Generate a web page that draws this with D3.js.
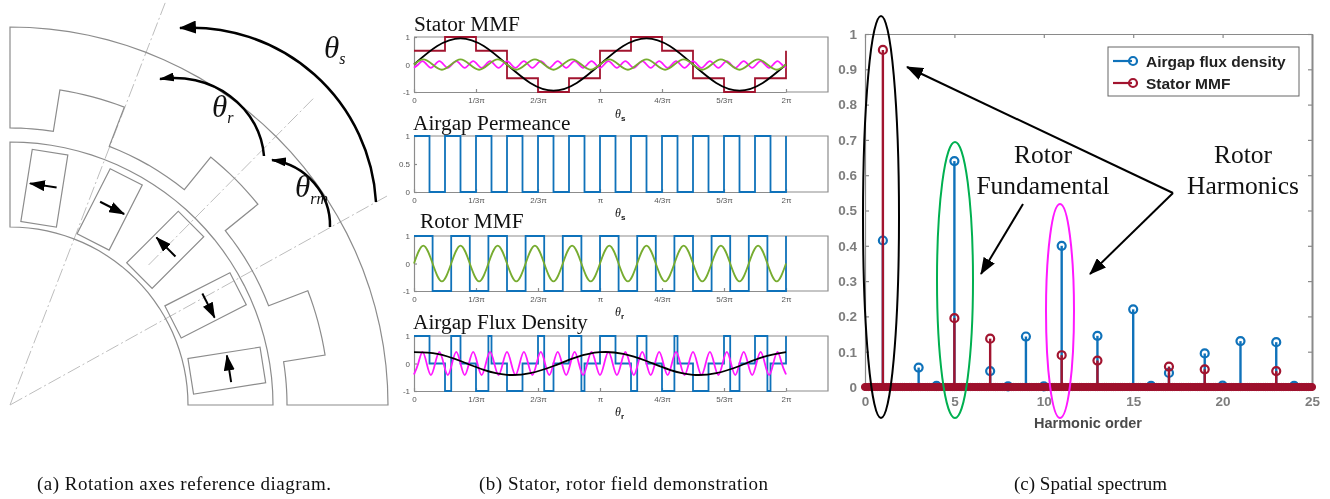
<!DOCTYPE html>
<html>
<head>
<meta charset="utf-8">
<title>Spatial harmonics</title>
<script src="https://cdnjs.cloudflare.com/ajax/libs/d3/7.8.5/d3.min.js"></script>
<style>
    * { margin: 0; padding: 0; }
    body { background: #fff; }
    svg { display: block; filter: blur(0.55px); }
    .serif { font-family: "Liberation Serif", serif; fill: #111; }
    .sans { font-family: "Liberation Sans", sans-serif; }
    .small-axis text { font-family: "Liberation Sans", sans-serif; font-size: 8px; fill: #555; }
    .small-axis path, .small-axis line { stroke: #8c8c8c; stroke-width: 1.2; }
    .big-axis text { font-family: "Liberation Sans", sans-serif; font-size: 13.5px; font-weight: bold; fill: #7d7d7d; }
    .big-axis path, .big-axis line { stroke: #8a8a8a; stroke-width: 1.2; }
</style>
</head>
<body>
<svg id="fig" width="1330" height="499"></svg>

<script>
// ---- panel (a) geometry, degrees and radii
const statorAngles = [0, 9, 9, 21, 21, 39, 39, 51, 51, 69, 69, 81, 81, 90];
const statorRadii = [277, 277, 319, 319, 277, 277, 319, 319, 277, 277, 319, 319, 277, 277];
const statorOuter = 378;
const rotorInner = 178, rotorOuter = 263;
const magnetAngles = [9, 27, 45, 63, 81];
const magnetDirs = [1, -1, 1, -1, 1];
const centerLines = [[68.9, 0, 431], [45.3, 197, 431], [29, 0, 431]];

// ---- panel (b) series, x is in steps of pi/6
const piLabels = ["0", "1/3\u03c0", "2/3\u03c0", "\u03c0", "4/3\u03c0", "5/3\u03c0", "2\u03c0"];
const piTicks = [0, 2, 4, 6, 8, 10, 12];
const statorStep = [0.5, 1, 0.5, -0.5, -1, -0.5, 0.5, 1, 0.5, -0.5, -1, -0.5, 0.5];
const statorFund = [0, 0.67, 0.95, 0.67, 0, -0.67, -0.95, -0.67, 0, 0.67, 0.95, 0.67, 0, -0.67, -0.95, -0.67, 0];
const statorFifth = [0, 0.19, 0, -0.19, 0, 0.19, 0, -0.19, 0, 0.19, 0, -0.19, 0, 0.19, 0, -0.19, 0, 0.19, 0, -0.19, 0,
    0.19, 0, -0.19, 0, 0.19, 0, -0.19, 0, 0.19, 0, -0.19, 0, 0.19, 0, -0.19, 0, 0.19, 0, -0.19, 0];
const statorEleventh = [-0.12, 0, 0.12, 0, -0.12, 0, 0.12, 0, -0.12, 0, 0.12, 0, -0.12, 0, 0.12, 0, -0.12, 0, 0.12, 0, -0.12, 0,
    0.12, 0, -0.12, 0, 0.12, 0, -0.12, 0, 0.12, 0, -0.12, 0, 0.12, 0, -0.12, 0, 0.12, 0, -0.12, 0, 0.12, 0,
    -0.12, 0, 0.12, 0, -0.12, 0, 0.12, 0, -0.12, 0, 0.12, 0, -0.12, 0, 0.12, 0, -0.12, 0, 0.12, 0, -0.12, 0,
    0.12, 0, -0.12, 0, 0.12, 0, -0.12, 0, 0.12, 0, -0.12, 0, 0.12, 0, -0.12, 0, 0.12, 0, -0.12, 0, 0.12, 0, -0.12];
const permeance = [1, 0, 1, 0, 1, 0, 1, 0, 1, 0, 1, 0, 1, 0, 1, 0, 1, 0, 1, 0, 1, 0, 1, 0, 1];
const rotorStep = [1, -1, 1, -1, 1, -1, 1, -1, 1, -1, 1, -1, 1, -1, 1, -1, 1, -1, 1, -1, 1];
const rotorFund = [0, 0.65, 0, -0.65, 0, 0.65, 0, -0.65, 0, 0.65, 0, -0.65, 0, 0.65, 0, -0.65, 0, 0.65, 0, -0.65, 0,
    0.65, 0, -0.65, 0, 0.65, 0, -0.65, 0, 0.65, 0, -0.65, 0, 0.65, 0, -0.65, 0, 0.65, 0, -0.65, 0];
const fluxBreaks = [0, 0.5, 1, 1.2, 1.5, 2, 2.4, 2.5, 3, 3.5, 4, 4.2, 4.5, 5, 5.4, 5.5,
    6, 6.5, 7, 7.2, 7.5, 8, 8.4, 8.5, 9, 9.5, 10, 10.2, 10.5, 11, 11.4, 11.5, 12];
const fluxStep = [1, 0, -1, 1, 0, -1, 1, 0, -1, 0, 1, -1, 0, 1, -1, 0,
    1, 0, -1, 1, 0, -1, 1, 0, -1, 0, 1, -1, 0, 1, -1, 0, 1];
const fluxFund = [0.41, 0.35, 0.09, -0.23, -0.41, -0.35, -0.09, 0.23, 0.41, 0.35, 0.09, -0.23, -0.41, -0.35, -0.09, 0.23, 0.41];
const fluxEleventh = [-0.4, 0, 0.42, 0, -0.42, 0, 0.42, 0, -0.42, 0, 0.42, 0, -0.42, 0, 0.42, 0, -0.42, 0, 0.42, 0, -0.42, 0,
    0.42, 0, -0.42, 0, 0.42, 0, -0.42, 0, 0.42, 0, -0.42, 0, 0.42, 0, -0.42, 0, 0.42, 0, -0.42, 0, 0.42, 0,
    -0.42, 0, 0.42, 0, -0.42, 0, 0.42, 0, -0.42, 0, 0.42, 0, -0.42, 0, 0.42, 0, -0.42, 0, 0.42, 0, -0.42, 0,
    0.42, 0, -0.42, 0, 0.42, 0, -0.42, 0, 0.42, 0, -0.42, 0, 0.42, 0, -0.42, 0, 0.42, 0, -0.42, 0, 0.42, 0, -0.4];

// ---- panel (c) spectrum
const fluxOrders = [1, 3, 5, 7, 9, 11, 13, 15, 17, 19, 21, 23];
const fluxValues = [0.415, 0.055, 0.64, 0.045, 0.143, 0.4, 0.145, 0.22, 0.04, 0.095, 0.13, 0.127];
const mmfOrders = [1, 5, 7, 11, 13, 17, 19, 23];
const mmfValues = [0.955, 0.195, 0.137, 0.09, 0.075, 0.058, 0.05, 0.045];
const bumpOrders = [4, 8, 10, 16, 20, 24];
const bumpValues = [0.003, 0.002, 0.002, 0.003, 0.004, 0.003];

const blue = "#0f72ba", red = "#a2142f", green = "#77ac30", magenta = "#ff19ff";
const svg = d3.select("#fig");

// Arrow heads
function head(id, len, wid) {
    svg.append("marker").attr("id", id)
        .attr("markerUnits", "userSpaceOnUse")
        .attr("markerWidth", len).attr("markerHeight", wid)
        .attr("refX", len - 1).attr("refY", wid / 2)
        .attr("orient", "auto")
        .append("path")
        .attr("d", "M0,0L" + len + "," + wid / 2 + "L0," + wid + "Z")
        .attr("fill", "#000");
}
head("headBig", 17, 13);
head("headMid", 15, 9);
head("headMag", 16, 11);

// ---- panel (a)
const motor = svg.append("g").attr("transform", "translate(10,405)")
    .attr("fill", "none").attr("stroke", "#8c8c8c").attr("stroke-width", 1.2);
const rad = d3.scaleLinear().domain([0, 90]).range([Math.PI / 2, 0]);

motor.selectAll(".axis-line").data(centerLines).join("path")
    .attr("class", "axis-line")
    .attr("stroke", "#bdbdbd").attr("stroke-width", 1).attr("stroke-dasharray", "14 3 2 3")
    .attr("d", d => d3.lineRadial()([[rad(d[0]), d[1]], [rad(d[0]), d[2]]]));

const outline = d3.lineRadial().curve(d3.curveLinear);
// stator teeth, with a short arc between each pair of corners
const statorPts = [];
statorAngles.forEach((a, i) => {
    statorPts.push([rad(a), statorRadii[i]]);
    if (i < statorAngles.length - 1 && statorRadii[i] === statorRadii[i + 1]) {
        d3.range(1, 8).forEach(k => statorPts.push([rad(a + (statorAngles[i + 1] - a) * k / 8), statorRadii[i]]));
    }
});
const outerPts = d3.range(90, -1, -3).map(a => [rad(a), statorOuter]);
motor.append("path").attr("d", outline(statorPts.concat(outerPts)) + "Z");

const rotorPts = d3.range(0, 91, 3).map(a => [rad(a), rotorOuter])
    .concat(d3.range(90, -1, -3).map(a => [rad(a), rotorInner]));
motor.append("path").attr("d", outline(rotorPts) + "Z");

magnetAngles.forEach((a, i) => {
    const g = motor.append("g").attr("transform", "rotate(" + (-a) + ")");
    g.append("rect").attr("x", 183).attr("y", -18).attr("width", 73).attr("height", 36);
    const d = magnetDirs[i];
    g.append("line").attr("x1", 222).attr("x2", 222)
        .attr("y1", 12 * d).attr("y2", -15 * d)
        .attr("stroke", "#000").attr("stroke-width", 2)
        .attr("marker-end", "url(#headMag)");
});

// rotation arcs
const sweeps = [
    ["M376,202 A185,185 0 0 0 180,28", "headBig"],
    ["M264,156 A90,84 0 0 0 160,79", "headMid"],
    ["M330,227 A68,66 0 0 0 272,160", "headMid"]
];
svg.selectAll(".sweep").data(sweeps).join("path").attr("class", "sweep")
    .attr("d", d => d[0]).attr("fill", "none").attr("stroke", "#000").attr("stroke-width", 2.5)
    .attr("marker-end", d => "url(#" + d[1] + ")");

function theta(x, y, sub, size, subSize, dy) {
    const t = svg.append("text").attr("class", "serif").attr("x", x).attr("y", y)
        .attr("font-size", size).attr("font-style", "italic").text("\u03b8");
    t.append("tspan").attr("dy", dy).attr("font-size", subSize).text(sub);
}
theta(324, 58, "s", 31, 16, 6);
theta(212, 117, "r", 31, 16, 6);
theta(295, 197, "rm", 31, 16, 7);

// ---- panel (b)
const xStep = d3.scaleLinear().domain([0, 12]).range([414, 786]);
const PLOT_RIGHT = 828;

function hyphen(d) { return String(d); }

function smallPlot(top, bottom, yDomain, yTicks, title, titleX, titleY, label, labelY) {
    const y = d3.scaleLinear().domain(yDomain).range([bottom, top]);
    const g = svg.append("g").attr("class", "small-axis");
    const xAxis = d3.axisBottom(xStep).tickValues(piTicks).tickFormat((d, i) => piLabels[i])
        .tickSizeInner(-3).tickSizeOuter(0).tickPadding(5);
    g.append("g").attr("transform", "translate(0," + bottom + ")").call(xAxis);
    g.append("g").attr("transform", "translate(414,0)")
        .call(d3.axisLeft(y).tickValues(yTicks).tickFormat(hyphen).tickSizeInner(-3).tickSizeOuter(0).tickPadding(4));
    // the box runs well past the last tick
    g.append("path").attr("fill", "none")
        .attr("d", "M414," + top + "H" + PLOT_RIGHT + "V" + bottom + "H786");
    svg.append("text").attr("class", "serif").attr("x", titleX).attr("y", titleY)
        .attr("font-size", 21.3).text(title);
    const l = svg.append("text").attr("class", "serif").attr("x", 615).attr("y", labelY)
        .attr("font-size", 12).attr("font-style", "italic").text("\u03b8");
    l.append("tspan").attr("dy", 3).attr("font-size", 8).attr("font-weight", "bold")
        .attr("font-style", "normal").attr("font-family", "Liberation Sans").text(label);
    return y;
}

function drawLine(values, y, color, curve, xs, width) {
    const step = 12 / (values.length - 1);
    const line = d3.line()
        .x((d, i) => xStep(xs ? xs[i] : i * step))
        .y(d => y(d))
        .curve(curve);
    svg.append("path").datum(values).attr("d", line)
        .attr("fill", "none").attr("stroke", color).attr("stroke-width", width || 1.8);
}

const y1 = smallPlot(37, 92, [-1, 1], [-1, 0, 1], "Stator MMF", 414, 31, "s", 118);
drawLine(statorStep, y1, red, d3.curveStepAfter);
drawLine(statorFund, y1, "#000", d3.curveNatural);
drawLine(statorEleventh, y1, magenta, d3.curveNatural);
drawLine(statorFifth, y1, green, d3.curveNatural);

const y2 = smallPlot(136, 192, [0, 1], [0, 0.5, 1], "Airgap Permeance", 413, 130, "s", 217);
drawLine(permeance, y2, blue, d3.curveStepAfter);

const y3 = smallPlot(236, 291, [-1, 1], [-1, 0, 1], "Rotor MMF", 420, 228, "r", 316);
drawLine(rotorStep, y3, blue, d3.curveStepAfter);
drawLine(rotorFund, y3, green, d3.curveNatural);

const y4 = smallPlot(336, 391, [-1, 1], [-1, 0, 1], "Airgap Flux Density", 413, 329, "r", 416);
drawLine(fluxStep, y4, blue, d3.curveStepAfter, fluxBreaks);
drawLine(fluxEleventh, y4, magenta, d3.curveNatural);
drawLine(fluxFund, y4, "#000", d3.curveNatural);

// ---- panel (c)
const xH = d3.scaleLinear().domain([0, 25]).range([865, 1312]);
const yH = d3.scaleLinear().domain([0, 1]).range([387, 34]);
const big = svg.append("g").attr("class", "big-axis");
big.append("g").attr("transform", "translate(0,387)")
    .call(d3.axisBottom(xH).ticks(5).tickFormat(d3.format("d")).tickSizeInner(-4).tickSizeOuter(0).tickPadding(9));
big.append("g").attr("transform", "translate(865,0)")
    .call(d3.axisLeft(yH).ticks(10).tickFormat(d3.format("~g")).tickSizeInner(-4).tickSizeOuter(0).tickPadding(8));
big.append("g").attr("transform", "translate(0,34)")
    .call(d3.axisTop(xH).ticks(5).tickFormat("").tickSizeInner(-4).tickSizeOuter(0));
big.append("g").attr("transform", "translate(1312,0)")
    .call(d3.axisRight(yH).ticks(10).tickFormat("").tickSizeInner(-4).tickSizeOuter(0))
    .select(".domain").style("stroke-width", 2);

function stems(orders, values, color) {
    const g = svg.append("g").attr("stroke", color).attr("fill", "none");
    g.selectAll("line").data(orders).join("line")
        .attr("x1", d => xH(d)).attr("x2", d => xH(d))
        .attr("y1", yH(0)).attr("y2", (d, i) => yH(values[i]))
        .attr("stroke-width", 2.4);
    g.selectAll("circle").data(orders).join("circle")
        .attr("cx", d => xH(d)).attr("cy", (d, i) => yH(values[i]))
        .attr("r", 4).attr("stroke-width", 2.2);
}
stems(fluxOrders, fluxValues, blue);
stems(bumpOrders, bumpValues, blue);
stems(mmfOrders, mmfValues, red);

// dense row of near-zero samples, drawn as markers sitting on the axis
svg.append("g").selectAll("circle").data(d3.range(0, 25.01, 0.1)).join("circle")
    .attr("cx", d => xH(d)).attr("cy", yH(0))
    .attr("r", 3.6).attr("fill", "#9e102c").attr("stroke", "#9e102c").attr("stroke-width", 1);

// ellipses round the harmonic groups
const rings = [[881, 217, 18, 201, "#000"], [955, 280, 18, 138, "#00b050"], [1060, 311, 14, 107, magenta]];
svg.selectAll(".ring").data(rings).join("ellipse").attr("class", "ring")
    .attr("cx", d => d[0]).attr("cy", d => d[1]).attr("rx", d => d[2]).attr("ry", d => d[3])
    .attr("fill", "none").attr("stroke", d => d[4]).attr("stroke-width", 2);

const pointers = [[1173, 193, 907, 67], [1173, 193, 1090, 274], [1023, 204, 981, 274]];
svg.selectAll(".pointer").data(pointers).join("line").attr("class", "pointer")
    .attr("x1", d => d[0]).attr("y1", d => d[1]).attr("x2", d => d[2]).attr("y2", d => d[3])
    .attr("stroke", "#000").attr("stroke-width", 2).attr("marker-end", "url(#headBig)");

const notes = [["Rotor", 1043, 163], ["Fundamental", 1043, 194], ["Rotor", 1243, 163], ["Harmonics", 1243, 194]];
svg.selectAll(".note").data(notes).join("text").attr("class", "note serif")
    .attr("x", d => d[1]).attr("y", d => d[2]).attr("text-anchor", "middle").attr("font-size", 25.5).text(d => d[0]);

svg.append("text").attr("class", "sans").attr("x", 1088).attr("y", 428).attr("text-anchor", "middle")
    .attr("font-size", 14.5).attr("font-weight", "bold").attr("fill", "#4a4a4a").text("Harmonic order");

// legend
const legend = svg.append("g");
legend.append("rect").attr("x", 1108).attr("y", 47).attr("width", 191).attr("height", 49)
    .attr("fill", "#fff").attr("stroke", "#666").attr("stroke-width", 1);
[["Airgap flux density", blue, 61], ["Stator MMF", red, 83]].forEach(d => {
    legend.append("line").attr("x1", 1113).attr("x2", 1132).attr("y1", d[2]).attr("y2", d[2])
        .attr("stroke", d[1]).attr("stroke-width", 2.2);
    legend.append("circle").attr("cx", 1133).attr("cy", d[2]).attr("r", 4)
        .attr("fill", "none").attr("stroke", d[1]).attr("stroke-width", 2.2);
    legend.append("text").attr("class", "sans").attr("x", 1146).attr("y", d[2] + 5.5)
        .attr("font-size", 15.5).attr("font-weight", "bold").attr("fill", "#222").text(d[0]);
});

// captions
const captions = [["(a) Rotation axes reference diagram.", 37, 294], ["(b) Stator, rotor field demonstration", 479, 289], ["(c) Spatial spectrum", 1014, 153]];
svg.selectAll(".cap").data(captions).join("text").attr("class", "cap serif")
    .attr("x", d => d[1]).attr("y", 490).attr("font-size", 19)
    .attr("textLength", d => d[2]).text(d => d[0]);
</script>
</body>
</html>
